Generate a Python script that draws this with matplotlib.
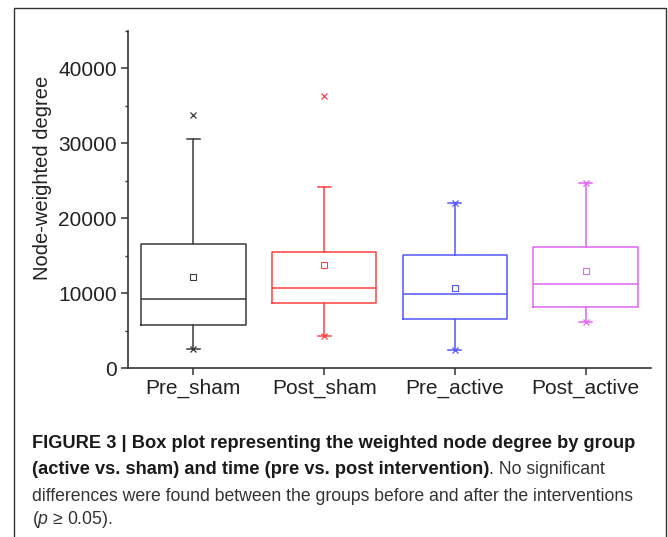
import numpy as np
import matplotlib.pyplot as plt
from matplotlib.patches import Rectangle
from matplotlib.ticker import MultipleLocator

plt.rcParams['font.family'] = ['Liberation Sans', 'DejaVu Sans']
plt.rcParams['mathtext.fontset'] = 'custom'
plt.rcParams['mathtext.it'] = 'Liberation Sans:italic'
plt.rcParams['mathtext.rm'] = 'Liberation Sans'

groups = ['Pre_sham', 'Post_sham', 'Pre_active', 'Post_active']
colors = ['#3a3a3a', '#ff4040', '#5555ff', '#e266f0']
q1 = [5730, 8710, 6530, 8130]
medians = [9160, 10710, 9870, 11160]
q3 = [16570, 15510, 15030, 16130]
means = [12170, 13690, 10670, 12930]
whisk_lo = [2530, 4230, 2400, 6130]
whisk_hi = [30530, 24230, 22040, 24760]
# values drawn with an x marker (1% / 99% points)
x_marks = [[33730, 2530], [36310, 4230], [22040, 2400], [24760, 6130]]

fig = plt.figure(figsize=(6.68, 5.37), dpi=100)
ax = fig.add_axes([128 / 668, 1 - 368 / 537, (651 - 128) / 668, (368 - 31) / 537])

for i, g in enumerate(groups):
    stats = [{'label': g, 'med': medians[i], 'q1': q1[i], 'q3': q3[i],
              'whislo': whisk_lo[i], 'whishi': whisk_hi[i], 'mean': means[i], 'fliers': []}]
    c = colors[i]
    ax.bxp(stats, positions=[i + 1], widths=0.8, showmeans=True, showfliers=False,
           boxprops=dict(color=c, lw=1.1), medianprops=dict(color=c, lw=1.1),
           whiskerprops=dict(color=c, lw=1.1), capprops=dict(color=c, lw=1.1),
           capwidths=0.1,
           meanprops=dict(marker='s', markersize=4, markerfacecolor='none',
                          markeredgecolor=c, markeredgewidth=0.8))
    ax.plot([i + 1] * len(x_marks[i]), x_marks[i], ls='none', marker='x',
            markersize=4, color=c, markeredgewidth=0.9)

ax.set_xlim(0.5, 4.5)
ax.set_ylim(0, 45000)
ax.set_xticks(range(1, 5))
ax.set_xticklabels(groups)
ax.set_yticks([0, 10000, 20000, 30000, 40000])
ax.yaxis.set_minor_locator(MultipleLocator(5000))
for s in ['top', 'right']:
    ax.spines[s].set_visible(False)
for s in ['left', 'bottom']:
    ax.spines[s].set_color('#333333')
    ax.spines[s].set_linewidth(1.2)
ax.tick_params(axis='both', which='major', length=5, width=1.1, color='#333333',
               labelsize=15, pad=3, labelcolor='#222222')
ax.tick_params(axis='y', which='minor', length=2.5, width=1.0, color='#333333')
ax.set_ylabel('Node-weighted degree', fontsize=14.5, color='#222222')
ax.yaxis.set_label_coords(-76 / 523, (368 - 178) / 337)

# figure frame
fig.patches.append(Rectangle((14 / 668, -0.05), (666 - 14) / 668, 1 - 8 / 537 + 0.05,
                             transform=fig.transFigure, fill=False,
                             edgecolor='#333333', lw=1.0))

# caption
W = 668
x0 = 32 / W
target = 633 - 32
renderer = fig.canvas.get_renderer()


def fit_size(t, width):
    # scale the font so the line spans the same width as in the original
    w = t.get_window_extent(renderer).width
    t.set_fontsize(t.get_fontsize() * width / w)
    return t.get_fontsize()


t1 = fig.text(x0, 1 - 448 / 537, 'FIGURE 3 | Box plot representing the weighted node degree by group',
              fontsize=12, fontweight='bold', va='baseline', color='#1a1a1a')
fs_b = fit_size(t1, target)
t3 = fig.text(x0, 1 - 501 / 537,
              'differences were found between the groups before and after the interventions',
              fontsize=12, va='baseline', color='#333333')
fs_n = fit_size(t3, target)

t2 = fig.text(x0, 1 - 474 / 537, '(active vs. sham) and time (pre vs. post intervention)',
              fontsize=fs_b, fontweight='bold', va='baseline', color='#1a1a1a')
bb = t2.get_window_extent(renderer)
fig.text(bb.x1 / W, 1 - 474 / 537, '. No significant',
         fontsize=fs_n, va='baseline', color='#333333')
fig.text(x0, 1 - 524 / 537, '($\\it{p}$ \u2265 0.05).', fontsize=fs_n, va='baseline',
         color='#333333')

fig.savefig('out.png', dpi=100)
